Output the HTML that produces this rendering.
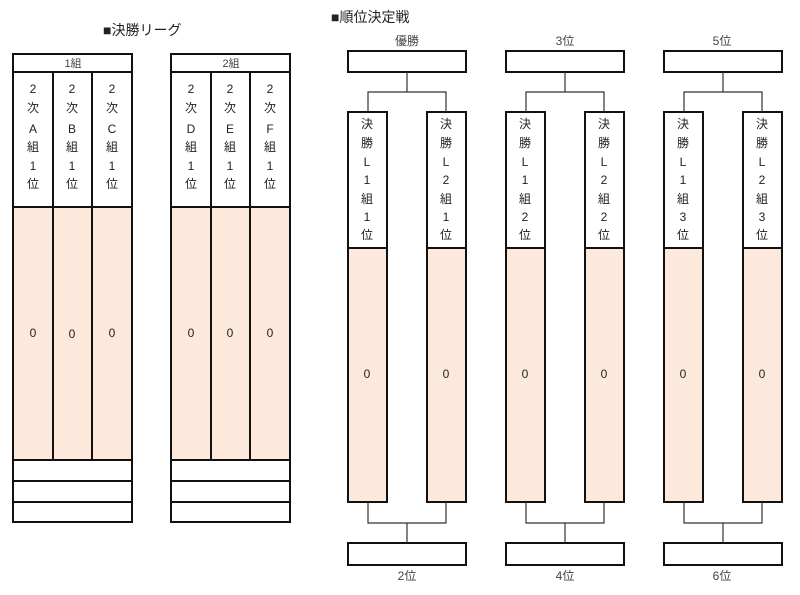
<!DOCTYPE html>
<html><head><meta charset="utf-8"><style>
html,body{margin:0;padding:0;background:#fff;width:800px;height:595px;overflow:hidden}
svg text{font-family:"Liberation Sans","Noto Sans CJK JP",sans-serif;fill:#222}
</style></head><body>
<svg width="800" height="595" viewBox="0 0 800 595" xmlns="http://www.w3.org/2000/svg">
<g font-size="14">
<text x="103" y="35">■決勝リーグ</text>
<text x="331" y="22">■順位決定戦</text>
</g>
<g id="t1">
<rect x="13" y="207" width="119" height="253" fill="#fce9dc"/>
<rect x="13" y="54" width="119" height="468" fill="none" stroke="#111" stroke-width="2"/>
<line x1="13" y1="72" x2="132" y2="72" stroke="#111" stroke-width="2"/>
<line x1="13" y1="207" x2="132" y2="207" stroke="#111" stroke-width="2"/>
<line x1="13" y1="460" x2="132" y2="460" stroke="#111" stroke-width="2"/>
<line x1="13" y1="481" x2="132" y2="481" stroke="#111" stroke-width="2"/>
<line x1="13" y1="502" x2="132" y2="502" stroke="#111" stroke-width="2"/>
<line x1="53" y1="72" x2="53" y2="460" stroke="#111" stroke-width="2"/>
<line x1="92" y1="72" x2="92" y2="460" stroke="#111" stroke-width="2"/>
</g>
<use href="#t1" x="158"/>
<g font-size="11" text-anchor="middle" style="fill:#444">
<text x="73" y="67" style="fill:#444">1組</text>
<text x="231" y="67" style="fill:#444">2組</text>
</g>
<g id="b1">
<rect x="348" y="51" width="118" height="21" fill="#fff" stroke="#111" stroke-width="2"/>
<rect x="348" y="543" width="118" height="22" fill="#fff" stroke="#111" stroke-width="2"/>
<rect x="348" y="248" width="39" height="253" fill="#fce9dc"/>
<rect x="427" y="248" width="39" height="253" fill="#fce9dc"/>
<rect x="348" y="112" width="39" height="390" fill="none" stroke="#111" stroke-width="2"/>
<rect x="427" y="112" width="39" height="390" fill="none" stroke="#111" stroke-width="2"/>
<line x1="348" y1="248" x2="387" y2="248" stroke="#111" stroke-width="2"/>
<line x1="427" y1="248" x2="466" y2="248" stroke="#111" stroke-width="2"/>
<path d="M407 72V92M368 112V92H446V112M368 502V523H446V502M407 523V543" fill="none" stroke="#333" stroke-width="1.2"/>
</g>
<use href="#b1" x="158"/>
<use href="#b1" x="316"/>
<g font-size="12" text-anchor="middle">
<text x="407" y="45" style="fill:#444">優勝</text><text x="565" y="45" style="fill:#444">3位</text><text x="722" y="45" style="fill:#444">5位</text>
<text x="407" y="580" style="fill:#444">2位</text><text x="565" y="580" style="fill:#444">4位</text><text x="722" y="580" style="fill:#444">6位</text>
</g>
<g font-size="12" text-anchor="middle">
<text x="33" y="93">2</text><text x="33" y="112">次</text><text x="33" y="133">A</text><text x="33" y="151">組</text><text x="33" y="170">1</text><text x="33" y="188">位</text>
<text x="72" y="93">2</text><text x="72" y="112">次</text><text x="72" y="133">B</text><text x="72" y="151">組</text><text x="72" y="170">1</text><text x="72" y="188">位</text>
<text x="112" y="93">2</text><text x="112" y="112">次</text><text x="112" y="133">C</text><text x="112" y="151">組</text><text x="112" y="170">1</text><text x="112" y="188">位</text>
<text x="191" y="93">2</text><text x="191" y="112">次</text><text x="191" y="133">D</text><text x="191" y="151">組</text><text x="191" y="170">1</text><text x="191" y="188">位</text>
<text x="230" y="93">2</text><text x="230" y="112">次</text><text x="230" y="133">E</text><text x="230" y="151">組</text><text x="230" y="170">1</text><text x="230" y="188">位</text>
<text x="270" y="93">2</text><text x="270" y="112">次</text><text x="270" y="133">F</text><text x="270" y="151">組</text><text x="270" y="170">1</text><text x="270" y="188">位</text>
<text x="33" y="337">0</text><text x="72" y="338">0</text><text x="112" y="337">0</text>
<text x="191" y="337">0</text><text x="230" y="337">0</text><text x="270" y="337">0</text>
<text x="367" y="128">決</text><text x="367" y="147">勝</text><text x="367" y="166">L</text><text x="367" y="184">1</text><text x="367" y="203">組</text><text x="367" y="221">1</text><text x="367" y="239">位</text>
<text x="446" y="128">決</text><text x="446" y="147">勝</text><text x="446" y="166">L</text><text x="446" y="184">2</text><text x="446" y="203">組</text><text x="446" y="221">1</text><text x="446" y="239">位</text>
<text x="525" y="128">決</text><text x="525" y="147">勝</text><text x="525" y="166">L</text><text x="525" y="184">1</text><text x="525" y="203">組</text><text x="525" y="221">2</text><text x="525" y="239">位</text>
<text x="604" y="128">決</text><text x="604" y="147">勝</text><text x="604" y="166">L</text><text x="604" y="184">2</text><text x="604" y="203">組</text><text x="604" y="221">2</text><text x="604" y="239">位</text>
<text x="683" y="128">決</text><text x="683" y="147">勝</text><text x="683" y="166">L</text><text x="683" y="184">1</text><text x="683" y="203">組</text><text x="683" y="221">3</text><text x="683" y="239">位</text>
<text x="762" y="128">決</text><text x="762" y="147">勝</text><text x="762" y="166">L</text><text x="762" y="184">2</text><text x="762" y="203">組</text><text x="762" y="221">3</text><text x="762" y="239">位</text>
<text x="367" y="378">0</text><text x="446" y="378">0</text><text x="525" y="378">0</text>
<text x="604" y="378">0</text><text x="683" y="378">0</text><text x="762" y="378">0</text>
</g>
</svg>
</body></html>
